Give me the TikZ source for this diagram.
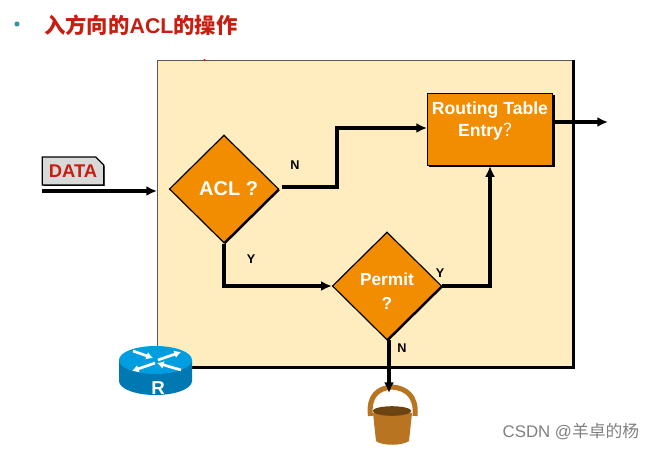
\documentclass[tikz,border=0pt]{standalone}
\usepackage{fontspec}
\setmainfont{Liberation Sans}
\newfontfamily\cjk{Noto Sans CJK SC}
\usepackage{xcolor}
\usepackage{tikz}
\usetikzlibrary{arrows.meta,shapes.geometric,shapes.misc,shadows}
\definecolor{laranja}{RGB}{242,140,0}
\definecolor{creme}{RGB}{255,237,191}
\definecolor{vermelho}{RGB}{198,30,16}
\definecolor{cinzatag}{RGB}{217,217,217}
\definecolor{azulrouter}{RGB}{0,158,224}
\definecolor{azulescuro}{RGB}{0,120,178}
\definecolor{balde}{RGB}{184,116,32}
\definecolor{baldeescuro}{RGB}{108,68,18}
\definecolor{verdetopico}{RGB}{48,150,160}
\tikzset{
  caixa/.style={rectangle,draw=black!65,fill=creme,line width=0.6pt,
    minimum width=312pt,minimum height=230pt},
  losango/.style={diamond,draw=black,fill=laranja,line width=0.9pt,inner sep=0pt,
    minimum width=82pt,minimum height=81pt,align=center,text=white,
    font=\bfseries\fontsize{15}{17}\selectfont,
    general shadow={shadow xshift=1pt,shadow yshift=-1pt,fill=black}},
  tabela/.style={rectangle,draw=black,fill=laranja,line width=0.9pt,
    minimum width=94pt,minimum height=54pt,
    general shadow={shadow xshift=1.4pt,shadow yshift=-1.4pt,fill=black}},
  etiqueta/.style={chamfered rectangle,chamfered rectangle corners=north east,
    chamfered rectangle xsep=3pt,chamfered rectangle ysep=3pt,
    draw=black,fill=cinzatag,line width=0.9pt,minimum width=46pt,minimum height=21pt,
    inner sep=0pt,text=vermelho,font=\bfseries\fontsize{13.8}{15}\selectfont,
    general shadow={shadow xshift=0.7pt,shadow yshift=-0.7pt,fill=black}},
  rotulo/.style={font=\bfseries\fontsize{9.5}{11}\selectfont,inner sep=0pt},
  seta/.style={-{Latex[length=8pt,width=7.5pt]},line width=2.3pt,black}
}
\begin{document}
\begin{tikzpicture}[x=0.75pt,y=-0.75pt]
\useasboundingbox (0,0) rectangle (654,451);
% titulo
\fill[verdetopico] (17,24) circle (1.9pt);
\node[anchor=west,inner sep=0pt,text=vermelho,font=\cjk\bfseries\fontsize{16}{18}\selectfont] (titulo) at (44,25) {入方向的{\fontspec{Liberation Sans}ACL}的操作};
% caixa
\node[caixa] (box) at (365,213.5) {};
\draw[line width=2.2pt] (box.north east) -- (box.south east) -- (box.south west);
\fill[red] (204.5,60) circle (0.9pt);
% nos
\node[losango] (acl) at (224,189) {\hspace*{7pt}ACL ?};
\node[losango,font=\bfseries\fontsize{13}{15}\selectfont] (permit) at (387,286) {\rule{0pt}{17pt}Permit\\[3pt]?};
\node[tabela] (routing) at (490,129.5) {};
\node[text=white,align=center,font=\bfseries\fontsize{13.2}{17}\selectfont,inner sep=0pt] (rtexto) at (490,121) {Routing Table\\Entry{\cjk\mdseries ？}\hspace*{1pt}};
\node[etiqueta] (data) at (73,171) {DATA};
\coordinate (entrada) at (42,191);
\coordinate (borda) at (157,191);
\coordinate (saida) at (608,122);
\coordinate (rsaida) at (553,122);
\coordinate (aclsaida) at (282,187);
\coordinate (rentra) at (427,128);
\coordinate (psul) at (389,340);
\coordinate (baldetopo) at (389,393);
% setas
\draw[seta] (entrada) -- (borda);
\draw[seta] (aclsaida) -- (337,187) -- (337,128) -- (rentra);
\draw[seta] (acl.south) -- (224,286) -- (permit.west);
\draw[seta] (permit.east) -- (490,286) -- (routing.south);
\draw[seta] (rsaida) -- (saida);
% balde
\draw[balde,line width=3.8pt] (370.5,416) .. controls (368,396) and (378,388) .. (392,387) .. controls (406,388) and (417,396) .. (415,416);
\fill[balde] (373,413) -- (412,413) -- (409,441) .. controls (402,446) and (382,446) .. (376,441) -- cycle;
\fill[baldeescuro] (392,411) ellipse (14.5pt and 3.6pt);
\draw[seta] (psul) -- (baldetopo);
% router
\fill[azulescuro] (119,360) -- (119,381) arc[start angle=180,end angle=0,x radius=36.5,y radius=14] -- (192,360) -- cycle;
\fill[azulrouter] (155.5,360) ellipse[x radius=36.5,y radius=14];
\begin{scope}[white,line width=2pt,-{Latex[length=5pt,width=6pt]}]
\draw (133,351) -- (153,358);
\draw (158,360) -- (181,352);
\draw (155,363) -- (132,371);
\draw (181,370) -- (157,363);
\end{scope}
\node[text=white,font=\bfseries\fontsize{14}{16}\selectfont,inner sep=0pt] (rlabel) at (158,388) {R};
% rotulos
\node[rotulo] (ln) at (295,165) {N};
\node[rotulo] (ly) at (251,259) {Y};
\node[rotulo] (lyb) at (440,273) {Y};
\node[rotulo] (lnb) at (402,348) {N};
% marca
\node[text=black!50,font=\fontsize{12.6}{14}\selectfont,inner sep=0pt] (marca) at (571,432) {CSDN @{\cjk 羊卓的杨}};
\end{tikzpicture}
\end{document}
